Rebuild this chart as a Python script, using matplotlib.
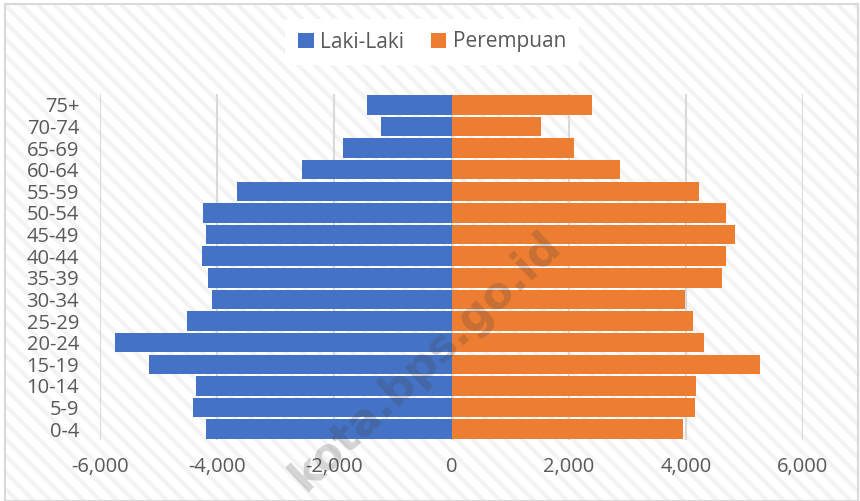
import numpy as np
import matplotlib
matplotlib.use("Agg")
import matplotlib.pyplot as plt
from matplotlib.patches import Rectangle
from matplotlib.ticker import FuncFormatter

# age groups from youngest to oldest
age_groups = ["0-4", "5-9", "10-14", "15-19", "20-24", "25-29", "30-34", "35-39",
              "40-44", "45-49", "50-54", "55-59", "60-64", "65-69", "70-74", "75+"]
laki_laki = [4190, 4410, 4360, 5160, 5740, 4520, 4080, 4160,
             4260, 4190, 4240, 3670, 2560, 1860, 1210, 1450]
perempuan = [3950, 4150, 4180, 5260, 4310, 4130, 3980, 4610,
             4680, 4840, 4680, 4230, 2870, 2090, 1520, 2390]

plt.rcParams["font.family"] = ["Open Sans", "DejaVu Sans"]
plt.rcParams["hatch.linewidth"] = 3.0

fig = plt.figure(figsize=(8.6, 5.01), dpi=100)
fig.patch.set_facecolor("white")

# hatched chart background with thin border
bg = Rectangle((0.006, 0.0), 0.992, 0.992, transform=fig.transFigure,
               facecolor="none", edgecolor="#f3f3f3", lw=0, hatch="\\\\", zorder=0)
fig.patches.append(bg)
border = Rectangle((0.006, 0.0), 0.992, 0.992, transform=fig.transFigure,
                   facecolor="none", edgecolor="#d9d9d9", lw=1.5, zorder=1)
fig.patches.append(border)

ax = fig.add_axes([0.1163, 0.1218, 0.8174, 0.6906])
ax.set_zorder(2)
ax.patch.set_alpha(0)

y = np.arange(len(age_groups))
ax.barh(y, -np.array(laki_laki), height=0.9, color="#4472c4", label="Laki-Laki", zorder=2)
ax.barh(y, perempuan, height=0.9, color="#ed7d31", label="Perempuan", zorder=2)

ax.set_xlim(-6000, 6000)
ax.set_ylim(-0.5, len(age_groups) - 0.5)
ax.set_xticks(np.arange(-6000, 6001, 2000))
ax.xaxis.set_major_formatter(FuncFormatter(lambda v, p: f"{int(v):,}"))
ax.set_yticks(y)
ax.set_yticklabels(age_groups)
ax.grid(axis="x", color="#d9d9d9", lw=1.5, zorder=1)
ax.set_axisbelow(True)
for s in ax.spines.values():
    s.set_visible(False)
ax.tick_params(axis="both", length=0, labelsize=14.5, colors="#595959")
ax.tick_params(axis="y", pad=15)
ax.tick_params(axis="x", pad=12)

leg = ax.legend(loc="center", ncol=2, fontsize=15, frameon=True, fancybox=False,
                handlelength=0.75, handleheight=0.75, handletextpad=0.3,
                columnspacing=1.3, borderpad=0.6,
                bbox_to_anchor=(432 / 860, 1 - 42 / 501), bbox_transform=fig.transFigure)
leg.get_frame().set_facecolor("white")
leg.get_frame().set_edgecolor("none")
leg.get_frame().set_alpha(1)
for t in leg.get_texts():
    t.set_color("#595959")

# watermark
fig.text(425 / 860, 1 - 361 / 501, "kota.bps.go.id", rotation=43.5, fontsize=31.5,
         fontweight="bold", color="#404040", alpha=0.22, ha="center", va="center",
         family="DejaVu Sans", zorder=10)

fig.savefig("out.png", dpi=100)
